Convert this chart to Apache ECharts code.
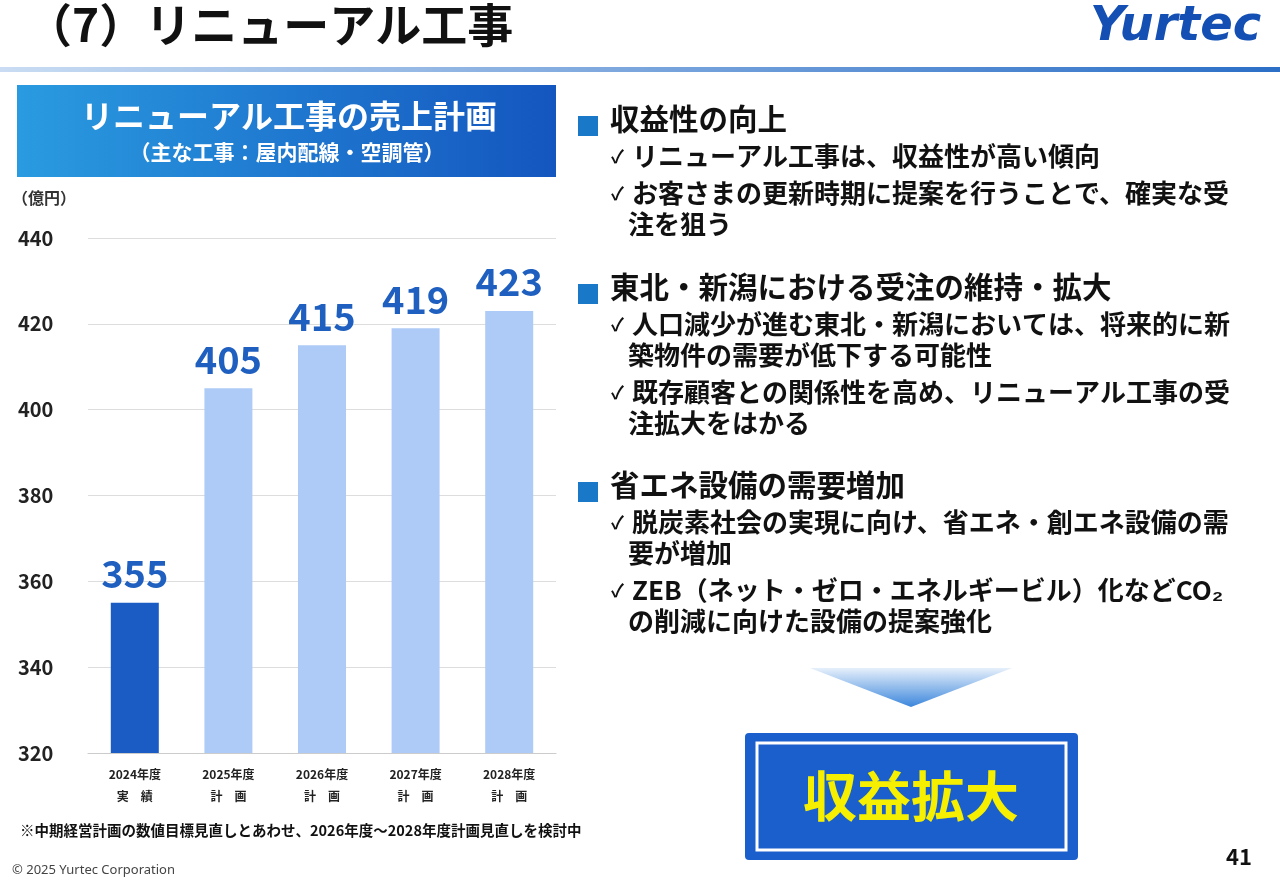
<!DOCTYPE html>
<html><head><meta charset="utf-8">
<script src="https://cdn.jsdelivr.net/npm/echarts@6/dist/echarts.min.js"></script>
<style>html,body{margin:0;background:#fff}#c{width:1280px;height:886px}</style>
</head><body><div id="c"></div>
<script>
const categories = ['2024年度\n実　績', '2025年度\n計　画', '2026年度\n計　画', '2027年度\n計　画', '2028年度\n計　画'];
const sales = [355, 405, 415, 419, 423];
const yTicks = [320, 340, 360, 380, 400, 420, 440];

const F = '"Noto Sans CJK JP", sans-serif';
const chart = echarts.init(document.getElementById('c'));

function txt(x, y, s, size, color, extra) {
    return { type: 'text', left: x, top: y, style: Object.assign({ text: s, font: 'bold ' + size + 'px ' + F, fill: color || '#111' }, extra || {}) };
}

const blocks = [
    { y: 104, head: '収益性の向上', items: [['リニューアル工事は、収益性が高い傾向'], ['お客さまの更新時期に提案を行うことで、確実な受', '注を狙う']] },
    { y: 272, head: '東北・新潟における受注の維持・拡大', items: [['人口減少が進む東北・新潟においては、将来的に新', '築物件の需要が低下する可能性'], ['既存顧客との関係性を高め、リニューアル工事の受', '注拡大をはかる']] },
    { y: 470, head: '省エネ設備の需要増加', items: [['脱炭素社会の実現に向け、省エネ・創エネ設備の需', '要が増加'], ['ZEB（ネット・ゼロ・エネルギービル）化などCO₂', 'の削減に向けた設備の提案強化']] }
];
const graphics = [
    txt(26, 2, '（7）リニューアル工事', 46, '#111'),
    { type: 'text', left: 1090, top: 4, style: { text: 'Yurtec', font: 'italic 900 48px "DejaVu Sans", sans-serif', fill: '#1450b4' } },
    { type: 'rect', shape: { x: 0, y: 67, width: 1280, height: 5 }, style: { fill: new echarts.graphic.LinearGradient(0, 0, 1, 0, [{ offset: 0, color: '#c9dcf3' }, { offset: 1, color: '#2b6fc7' }]) } },
    { type: 'rect', shape: { x: 17, y: 85, width: 539, height: 92 }, style: { fill: new echarts.graphic.LinearGradient(0, 0, 1, 0, [{ offset: 0, color: '#2a9be0' }, { offset: 1, color: '#1456bf' }]) } },
    { type: 'text', x: 289, y: 116, style: { text: 'リニューアル工事の売上計画', font: 'bold 32px ' + F, fill: '#fff', align: 'center', verticalAlign: 'middle' } },
    { type: 'text', x: 287, y: 152, style: { text: '（主な工事：屋内配線・空調管）', font: 'bold 21px ' + F, fill: '#fff', align: 'center', verticalAlign: 'middle' } },
    txt(12, 190, '（億円）', 16, '#333'),
    txt(20, 823, '※中期経営計画の数値目標見直しとあわせ、2026年度～2028年度計画見直しを検討中', 14.5, '#111'),
    { type: 'text', left: 12, top: 864, style: { text: '© 2025 Yurtec Corporation', font: '13px "Noto Sans", sans-serif', fill: '#444' } },
    txt(1226, 846, '41', 22, '#111'),
    { type: 'polygon', shape: { points: [[810, 668], [1012, 668], [911, 707]] }, style: { fill: new echarts.graphic.LinearGradient(0, 0, 0, 1, [{ offset: 0, color: '#e6f0fb' }, { offset: 1, color: '#3c86dc' }]) } },
    { type: 'rect', shape: { x: 745, y: 733, width: 333, height: 127, r: 4 }, style: { fill: '#1a5fcc' } },
    { type: 'rect', shape: { x: 757, y: 743, width: 309, height: 107 }, style: { fill: '#1a5fcc', stroke: '#fff', lineWidth: 3 } },
    { type: 'text', x: 911, y: 796, style: { text: '収益拡大', font: 'bold 54px ' + F, fill: '#f6f000', align: 'center', verticalAlign: 'middle' } }
];
blocks.forEach(b => {
    graphics.push({ type: 'rect', shape: { x: 578, y: b.y + 12, width: 20, height: 20 }, style: { fill: '#1a78c8' } });
    graphics.push(txt(610, b.y, b.head, 29.5));
    let y = b.y + 39;
    b.items.forEach(it => {
        graphics.push(txt(611, y + 4, '✓', 18));
        it.forEach((line, i) => { graphics.push(txt(i ? 628 : 632, y, line, 26)); y += 31; });
        y += 6;
    });
});

chart.setOption({
    animation: false,
    grid: { left: 88, right: 724, top: 238, bottom: 133 },
    xAxis: {
        type: 'category', data: categories,
        axisLine: { lineStyle: { color: '#ccc' } }, axisTick: { show: false },
        axisLabel: { color: '#222', fontFamily: F, fontWeight: 'bold', fontSize: 12, lineHeight: 22, margin: 10 }
    },
    yAxis: {
        type: 'value', min: 320, max: 440, interval: 20,
        axisLabel: { color: '#222', fontFamily: F, fontWeight: 'bold', fontSize: 20, margin: 30, align: 'left', padding: [0, 0, 0, -40] },
        splitLine: { lineStyle: { color: '#ddd' } }
    },
    series: [{
        type: 'bar', barWidth: 48,
        data: sales.map((v, i) => ({ value: v, itemStyle: { color: i === 0 ? '#1a5bc4' : '#aecbf7' } })),
        label: { show: true, position: 'top', distance: 10, color: '#1f5fbf', fontFamily: F, fontWeight: 'bold', fontSize: 38 }
    }],
    graphic: graphics
});
</script></body></html>
